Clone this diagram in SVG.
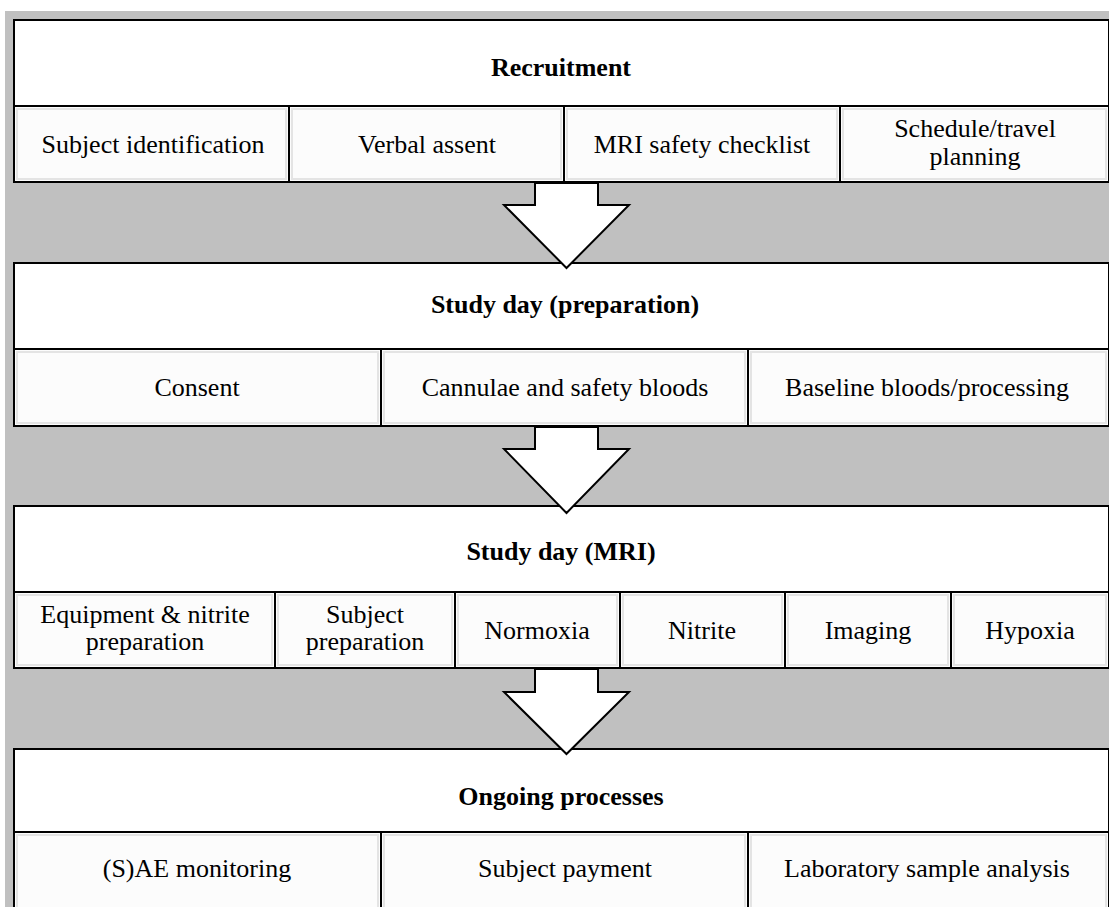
<svg xmlns="http://www.w3.org/2000/svg" width="1109" height="907" viewBox="0 0 1109 907">
<style>
.bg{fill:#c0c0c0}
.hdr{fill:#ffffff;stroke:#000;stroke-width:2}
.cell{fill:#fcfcfc;stroke:#000;stroke-width:2}
.inner{fill:none;stroke:#e4e4e4;stroke-width:2}
.t{font-family:"Liberation Serif","Times New Roman",serif;font-size:26px;fill:#000;text-anchor:middle}
.b{font-weight:bold}
.arrow{fill:#fff;stroke:#000;stroke-width:2;stroke-linejoin:miter}
</style>
<rect x="0" y="0" width="1109" height="907" fill="#fff"/>
<rect class="bg" x="5" y="11" width="1104" height="896"/>

<g id="recruitment">
<rect class="hdr" x="14" y="20" width="1095" height="86"/>
<text class="t b" x="561" y="76">Recruitment</text>
<rect class="cell" x="14" y="106" width="275" height="76"/>
<rect class="inner" x="17" y="109" width="269" height="70"/>
<text class="t" x="153" y="153">Subject identification</text>
<rect class="cell" x="289" y="106" width="275" height="76"/>
<rect class="inner" x="292" y="109" width="269" height="70"/>
<text class="t" x="427" y="153">Verbal assent</text>
<rect class="cell" x="564" y="106" width="276" height="76"/>
<rect class="inner" x="567" y="109" width="270" height="70"/>
<text class="t" x="702" y="153">MRI safety checklist</text>
<rect class="cell" x="840" y="106" width="269" height="76"/>
<rect class="inner" x="843" y="109" width="263" height="70"/>
<text class="t" x="975" y="137">Schedule/travel</text>
<text class="t" x="975" y="165">planning</text>
</g>

<g id="prep">
<rect class="hdr" x="14" y="263" width="1095" height="86"/>
<text class="t b" x="565" y="313">Study day (preparation)</text>
<rect class="cell" x="14" y="349" width="367" height="77"/>
<rect class="inner" x="17" y="352" width="361" height="71"/>
<text class="t" x="197" y="396">Consent</text>
<rect class="cell" x="381" y="349" width="367" height="77"/>
<rect class="inner" x="384" y="352" width="361" height="71"/>
<text class="t" x="565" y="396">Cannulae and safety bloods</text>
<rect class="cell" x="748" y="349" width="361" height="77"/>
<rect class="inner" x="751" y="352" width="355" height="71"/>
<text class="t" x="927" y="396">Baseline bloods/processing</text>
</g>

<g id="mri">
<rect class="hdr" x="14" y="506" width="1095" height="86"/>
<text class="t b" x="561" y="560">Study day (MRI)</text>
<rect class="cell" x="14" y="592" width="261" height="76"/>
<rect class="inner" x="17" y="595" width="255" height="70"/>
<text class="t" x="145" y="623">Equipment &amp; nitrite</text>
<text class="t" x="145" y="650">preparation</text>
<rect class="cell" x="275" y="592" width="180" height="76"/>
<rect class="inner" x="278" y="595" width="174" height="70"/>
<text class="t" x="365" y="623">Subject</text>
<text class="t" x="365" y="650">preparation</text>
<rect class="cell" x="455" y="592" width="165" height="76"/>
<rect class="inner" x="458" y="595" width="159" height="70"/>
<text class="t" x="537" y="639">Normoxia</text>
<rect class="cell" x="620" y="592" width="165" height="76"/>
<rect class="inner" x="623" y="595" width="159" height="70"/>
<text class="t" x="702" y="639">Nitrite</text>
<rect class="cell" x="785" y="592" width="166" height="76"/>
<rect class="inner" x="788" y="595" width="160" height="70"/>
<text class="t" x="868" y="639">Imaging</text>
<rect class="cell" x="951" y="592" width="158" height="76"/>
<rect class="inner" x="954" y="595" width="152" height="70"/>
<text class="t" x="1030" y="639">Hypoxia</text>
</g>

<g id="ongoing">
<rect class="hdr" x="14" y="749" width="1095" height="83"/>
<text class="t b" x="561" y="805">Ongoing processes</text>
<rect class="cell" x="14" y="832" width="367" height="80"/>
<rect class="inner" x="17" y="835" width="361" height="74"/>
<text class="t" x="197" y="877">(S)AE monitoring</text>
<rect class="cell" x="381" y="832" width="367" height="80"/>
<rect class="inner" x="384" y="835" width="361" height="74"/>
<text class="t" x="565" y="877">Subject payment</text>
<rect class="cell" x="748" y="832" width="361" height="80"/>
<rect class="inner" x="751" y="835" width="355" height="74"/>
<text class="t" x="927" y="877">Laboratory sample analysis</text>
</g>

<g id="connectors">
<polygon class="arrow" points="535,183 598,183 598,205 629,205 566.5,268 504,205 535,205"/>
<polygon class="arrow" points="535,427 598,427 598,449 629,449 566.5,513 504,449 535,449"/>
<polygon class="arrow" points="535,669 598,669 598,692 629,692 566.5,754 504,692 535,692"/>
</g>
</svg>
